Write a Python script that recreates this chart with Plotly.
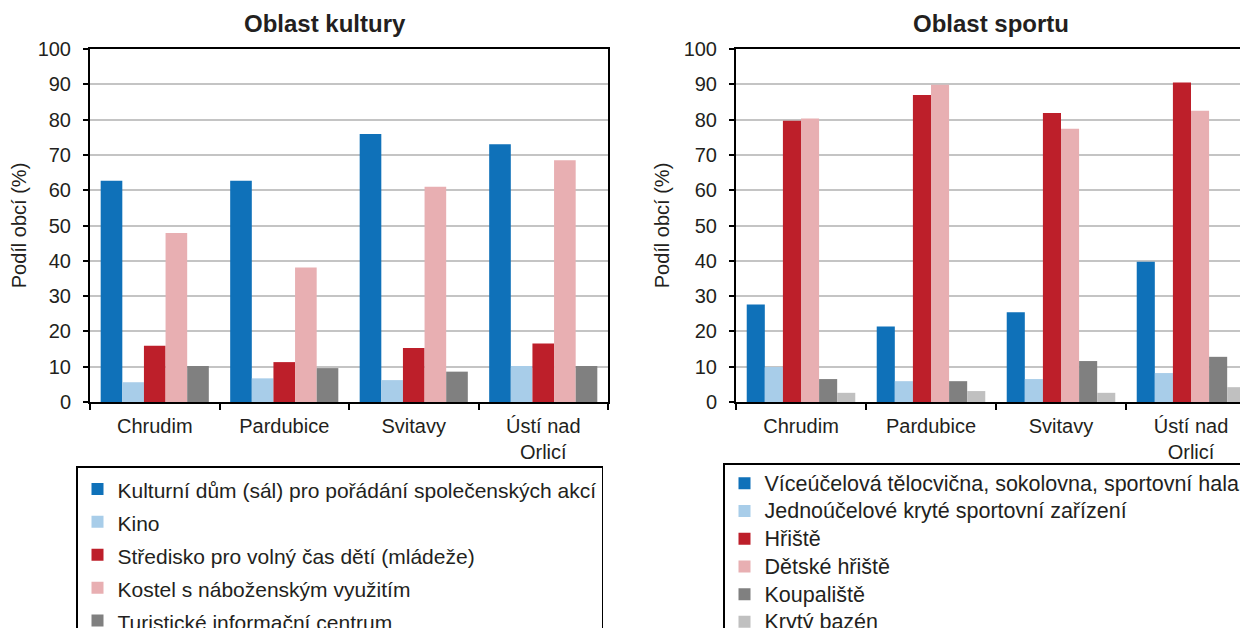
import plotly.graph_objects as go

# kategorie (okresy)
mesta = ["Chrudim", "Pardubice", "Svitavy", "Ústí nad<br>Orlicí"]

# Oblast kultury (% obcí)
kultura_nazvy = [
    "Kulturní dům (sál) pro pořádání společenských akcí",
    "Kino",
    "Středisko pro volný čas dětí (mládeže)",
    "Kostel s náboženským využitím",
    "Turistické informační centrum",
]
kulturni_dum = [62.7, 62.7, 75.9, 73.0]
kino = [5.6, 6.7, 6.2, 10.2]
stredisko = [15.9, 11.3, 15.3, 16.6]
kostel = [47.9, 38.1, 61.0, 68.5]
info_centrum = [10.2, 9.6, 8.6, 10.2]

# Oblast sportu (% obcí)
sport_nazvy = [
    "Víceúčelová tělocvična, sokolovna, sportovní hala",
    "Jednoúčelové kryté sportovní zařízení",
    "Hřiště",
    "Dětské hřiště",
    "Koupaliště",
    "Krytý bazén",
]
viceucelova = [27.6, 21.4, 25.4, 39.7]
jednoucelove = [9.9, 5.9, 6.5, 8.2]
hriste = [79.7, 87.0, 81.9, 90.5]
detske_hriste = [80.3, 89.9, 77.4, 82.5]
koupaliste = [6.5, 5.9, 11.6, 12.8]
kryty_bazen = [2.6, 3.1, 2.6, 4.2]

barvy_kultura = ["#0F71B9", "#A8CDE9", "#BD1F2A", "#E8AFB2", "#808080"]
barvy_sport = ["#0F71B9", "#A8CDE9", "#BD1F2A", "#E8AFB2", "#808080", "#C0C0C0"]

# stranka ma okraj 8 px, graf tedy zacina na (8, 8)
OKRAJ = 8
W, H = 1248 - OKRAJ, 628 - OKRAJ
FONT = "Liberation Sans, Arial, sans-serif"


def px_x(v):
    return (v - OKRAJ) / W


def px_y(v):
    return 1 - (v - OKRAJ) / H


fig = go.Figure()

for nazev, hodnoty, barva in zip(
    kultura_nazvy,
    [kulturni_dum, kino, stredisko, kostel, info_centrum],
    barvy_kultura,
):
    fig.add_trace(go.Bar(
        x=mesta, y=hodnoty,
        name=f'<span style="font-size:21px">{nazev}</span>',
        marker=dict(color=barva, line=dict(width=0)),
        xaxis="x", yaxis="y", legend="legend",
    ))

for nazev, hodnoty, barva in zip(
    sport_nazvy,
    [viceucelova, jednoucelove, hriste, detske_hriste, koupaliste, kryty_bazen],
    barvy_sport,
):
    fig.add_trace(go.Bar(
        x=mesta, y=hodnoty,
        name=f'<span style="font-size:21.5px">{nazev}</span>',
        marker=dict(color=barva, line=dict(width=0)),
        xaxis="x2", yaxis="y2", legend="legend2",
    ))

y_dom = [px_y(402), px_y(49)]

osa_y = dict(
    range=[0, 100], dtick=10, domain=y_dom,
    showgrid=True, gridcolor="#C4C4C4", gridwidth=1.5, zeroline=False,
    showline=True, linecolor="black", linewidth=2,
    ticks="outside", ticklen=5, tickwidth=1.5, tickcolor="black",
    tickfont=dict(size=20), ticklabelstandoff=8,
    title=dict(text="Podíl obcí (%)", font=dict(size=20), standoff=9),
)

osa_x = dict(
    showgrid=False, zeroline=False,
    showline=True, linecolor="black", linewidth=2, mirror=True,
    ticks="outside", tickson="boundaries", ticklen=6, tickwidth=1.5,
    tickcolor="black", tickfont=dict(size=20), ticklabelstandoff=5,
)

fig.update_layout(
    width=W, height=H,
    margin=dict(l=0, r=0, t=0, b=0, autoexpand=False),
    paper_bgcolor="white", plot_bgcolor="white",
    font=dict(family=FONT, color="#231F20"),
    barmode="group", bargap=0.165, bargroupgap=0,
    xaxis=dict(osa_x, domain=[px_x(90), px_x(608)], anchor="y"),
    yaxis=dict(osa_y, anchor="x", mirror=True),
    xaxis2=dict(osa_x, domain=[px_x(736), 1.0], anchor="y2",
                range=[-0.5, 3.5 - 8 / 130]),
    yaxis2=dict(osa_y, anchor="x2", mirror=False),
    legend=dict(
        x=px_x(76), y=px_y(466), xanchor="left", yanchor="top",
        bordercolor="black", borderwidth=1.5, bgcolor="white",
        font=dict(size=23), itemclick=False,
    ),
    legend2=dict(
        x=px_x(723), y=px_y(463), xanchor="left", yanchor="top",
        bordercolor="black", borderwidth=1.5, bgcolor="white",
        font=dict(size=19), itemclick=False,
    ),
    showlegend=True,
    annotations=[
        dict(text="<b>Oblast kultury</b>", x=px_x(325), y=px_y(24),
             xref="paper", yref="paper", xanchor="center", yanchor="middle",
             showarrow=False, font=dict(size=24)),
        dict(text="<b>Oblast sportu</b>", x=px_x(991), y=px_y(24),
             xref="paper", yref="paper", xanchor="center", yanchor="middle",
             showarrow=False, font=dict(size=24)),
    ],
)

fig.write_html("out.html")
